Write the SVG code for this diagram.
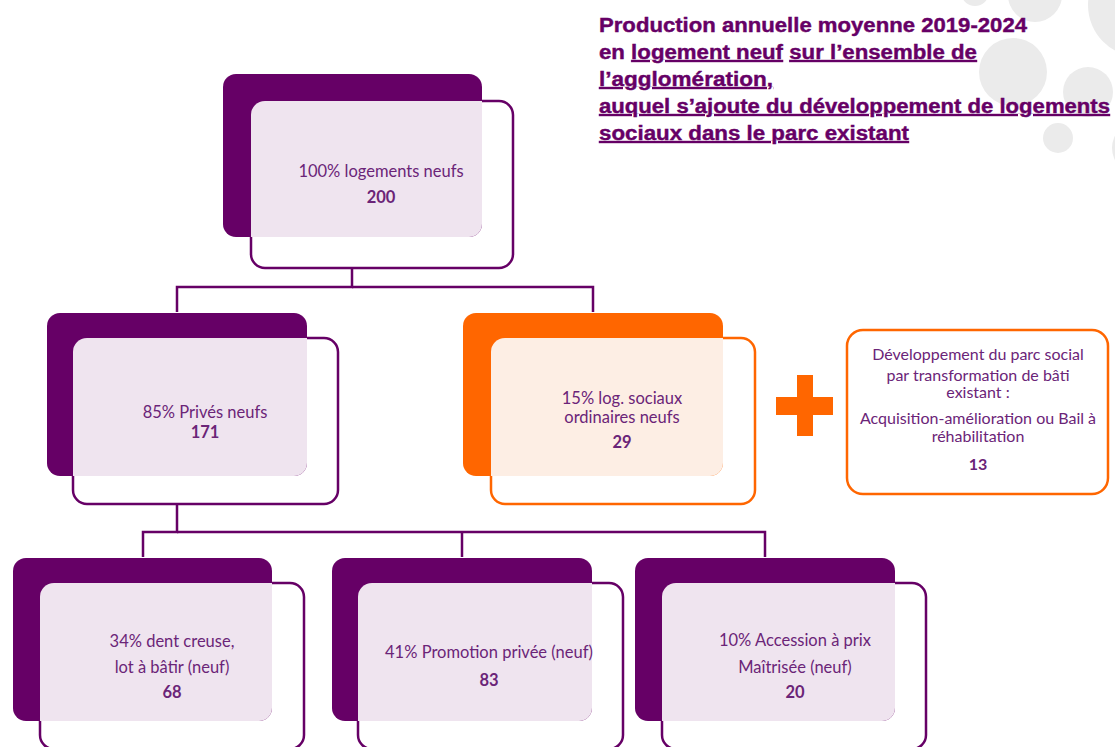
<svg xmlns="http://www.w3.org/2000/svg" width="1115" height="747" viewBox="0 0 1115 747">
<style>
.dark{fill:#660066}
.darko{fill:#FF6600}
.out{fill:#ffffff;stroke:#660066;stroke-width:2.5}
.outo{fill:#ffffff;stroke:#FF6600;stroke-width:2.5}
.light{fill:#EFE4EF}
.lighto{fill:#FDEEE4}
.t{font-family:Lato,"Liberation Sans",sans-serif;font-size:16.5px;fill:#6B2478;text-anchor:middle}
.ts{font-family:Lato,"Liberation Sans",sans-serif;font-size:16px;fill:#6B2478;text-anchor:middle}
.b{font-weight:bold}
.title{font-family:"Liberation Sans",Arial,sans-serif;font-size:20px;font-weight:bold;fill:#660066;stroke:#660066;stroke-width:0.4}
.u{text-decoration:underline}
.conn{fill:none;stroke:#660066;stroke-width:2.5}
.faint{fill:none;stroke:#E6D6E6;stroke-width:2.5}
.bg{fill:#EBEBEB}
</style>
<g id="background">
<circle class="bg" cx="1035" cy="-5" r="27"/>
<circle class="bg" cx="975" cy="-8" r="14"/>
<circle class="bg" cx="1140" cy="5" r="52"/>
<circle class="bg" cx="1013" cy="72" r="34"/>
<circle class="bg" cx="1088" cy="92" r="25"/>
<circle class="bg" cx="1058" cy="138" r="15"/>
<circle class="bg" cx="1138" cy="148" r="26"/>
</g>
<g id="title">
<text class="title" x="599" y="32" textLength="428" lengthAdjust="spacingAndGlyphs">Production annuelle moyenne 2019-2024</text>
<text class="title" x="599" y="59" textLength="378" lengthAdjust="spacingAndGlyphs">en <tspan class="u">logement neuf</tspan> <tspan class="u">sur l’ensemble de</tspan></text>
<text class="title u" x="599" y="86" textLength="174" lengthAdjust="spacingAndGlyphs">l’agglomération,</text>
<text class="title u" x="599" y="113" textLength="511" lengthAdjust="spacingAndGlyphs">auquel s’ajoute du développement de logements</text>
<text class="title u" x="599" y="140" textLength="310" lengthAdjust="spacingAndGlyphs">sociaux dans le parc existant</text>
</g>
<g id="connectors">
<line class="faint" x1="352" y1="238" x2="352" y2="266"/>
<line class="faint" x1="177" y1="477" x2="177" y2="503"/>
<polyline class="conn" points="352,268 352,287 177,287 177,312"/>
<polyline class="conn" points="352,287 593,287 593,312"/>
<polyline class="conn" points="177,505 177,532 143,532 143,557"/>
<polyline class="conn" points="177,532 765,532 765,557"/>
<line class="conn" x1="462" y1="532" x2="462" y2="557"/>
</g>
<g id="node-total">
<rect class="out" x="251" y="101" width="262" height="167" rx="14"/>
<rect class="dark" x="223" y="74" width="259" height="163" rx="13"/>
<path class="light" d="M251,115 a14,14 0 0 1 14,-14 H482 V224 a13,13 0 0 1 -13,13 H251 Z"/>
<text class="t" x="381" y="177">100% logements neufs</text>
<text class="t b" x="381" y="203">200</text>
</g>
<g id="node-prives">
<rect class="out" x="73" y="338" width="265" height="166" rx="14"/>
<rect class="dark" x="47" y="313" width="260" height="163" rx="13"/>
<path class="light" d="M73,352 a14,14 0 0 1 14,-14 H307 V463 a13,13 0 0 1 -13,13 H73 Z"/>
<text class="t" x="205" y="418">85% Privés neufs</text>
<text class="t b" x="205" y="438">171</text>
</g>
<g id="node-sociaux">
<rect class="outo" x="491" y="338" width="264" height="166" rx="14"/>
<rect class="darko" x="463" y="313" width="260" height="163" rx="13"/>
<path class="lighto" d="M491,352 a14,14 0 0 1 14,-14 H723 V463 a13,13 0 0 1 -13,13 H491 Z"/>
<text class="t" x="622" y="404">15% log. sociaux</text>
<text class="t" x="622" y="423">ordinaires neufs</text>
<text class="t b" x="622" y="448">29</text>
</g>
<g id="plus">
<rect class="darko" x="776" y="397" width="57" height="18"/>
<rect class="darko" x="797" y="375" width="16" height="61"/>
</g>
<g id="node-existant">
<rect class="outo" x="847" y="330" width="261" height="164" rx="16"/>
<text class="ts" x="978" y="360">Développement du parc social</text>
<text class="ts" x="978" y="381">par transformation de bâti</text>
<text class="ts" x="978" y="398">existant :</text>
<text class="ts" x="978" y="424">Acquisition-amélioration ou Bail à</text>
<text class="ts" x="978" y="442">réhabilitation</text>
<text class="ts b" x="978" y="470">13</text>
</g>
<g id="node-dent-creuse">
<rect class="out" x="40" y="583" width="264" height="166" rx="14"/>
<rect class="dark" x="13" y="558" width="259" height="163" rx="13"/>
<path class="light" d="M40,597 a14,14 0 0 1 14,-14 H272 V708 a13,13 0 0 1 -13,13 H40 Z"/>
<text class="t" x="172" y="647">34% dent creuse,</text>
<text class="t" x="172" y="673">lot à bâtir (neuf)</text>
<text class="t b" x="172" y="698">68</text>
</g>
<g id="node-promotion">
<rect class="out" x="358" y="583" width="265" height="166" rx="14"/>
<rect class="dark" x="332" y="558" width="260" height="163" rx="13"/>
<path class="light" d="M358,597 a14,14 0 0 1 14,-14 H592 V708 a13,13 0 0 1 -13,13 H358 Z"/>
<text class="t" x="489" y="658">41% Promotion privée (neuf)</text>
<text class="t b" x="489" y="686">83</text>
</g>
<g id="node-accession">
<rect class="out" x="662" y="583" width="264" height="166" rx="14"/>
<rect class="dark" x="635" y="558" width="260" height="163" rx="13"/>
<path class="light" d="M662,597 a14,14 0 0 1 14,-14 H895 V708 a13,13 0 0 1 -13,13 H662 Z"/>
<text class="t" x="795" y="646">10% Accession à prix</text>
<text class="t" x="795" y="673">Maîtrisée (neuf)</text>
<text class="t b" x="795" y="698">20</text>
</g>
</svg>
